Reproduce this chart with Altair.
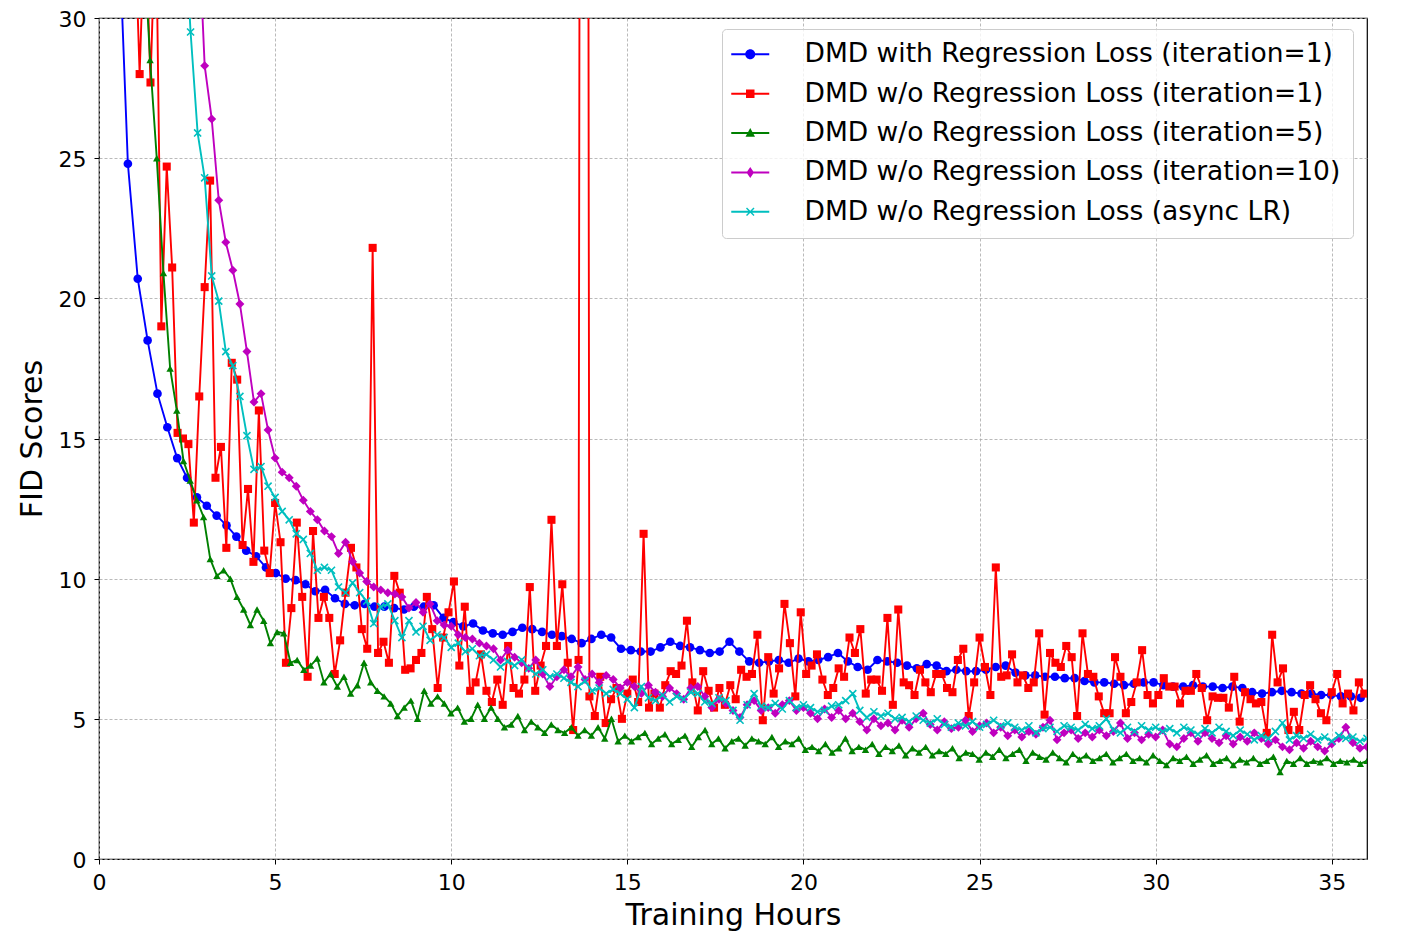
import altair as alt
import pandas as pd
import numpy as np

names = [
    "DMD with Regression Loss (iteration=1)",
    "DMD w/o Regression Loss (iteration=1)",
    "DMD w/o Regression Loss (iteration=5)",
    "DMD w/o Regression Loss (iteration=10)",
    "DMD w/o Regression Loss (async LR)",
]
colors = ["#0000ff", "#ff0000", "#008000", "#bf00bf", "#00bfbf"]

# blue: with regression loss, it=1  (hours 0.54 .. 35.82)
blue_x = (0.54, 35.82)
blue_y = [34, 24.8, 20.7, 18.5, 16.6, 15.4, 14.3, 13.6, 12.9, 12.6, 12.25, 11.9, 11.5, 11.0,
          10.8, 10.4, 10.2, 10.0, 9.95, 9.8, 9.55, 9.6, 9.3, 9.1, 9.05, 9.1, 9.0, 9.0, 8.95,
          8.9, 9.0, 9.0, 9.05, 8.6, 8.45, 8.3, 8.4, 8.15, 8.05, 8.0, 8.1, 8.25, 8.2, 8.1, 8.0,
          7.95, 7.85, 7.7, 7.85, 8.0, 7.9, 7.5, 7.45, 7.4, 7.4, 7.55, 7.75, 7.6, 7.55, 7.45,
          7.35, 7.4, 7.75, 7.4, 7.05, 7.0, 7.05, 7.1, 7.0, 7.15, 7.05, 7.1, 7.2, 7.35, 7.05,
          6.85, 6.75, 7.1, 7.05, 7.0, 6.9, 6.8, 6.95, 6.9, 6.7, 6.75, 6.7, 6.7, 6.75, 6.85,
          6.9, 6.65, 6.55, 6.55, 6.5, 6.5, 6.45, 6.45, 6.35, 6.3, 6.3, 6.25, 6.2, 6.25, 6.3,
          6.3, 6.2, 6.15, 6.15, 6.2, 6.15, 6.15, 6.1, 6.15, 6.1, 5.95, 5.9, 5.95, 6.0, 5.95,
          5.9, 5.9, 5.85, 5.85, 5.8, 5.8, 5.75]

# red: w/o regression loss, it=1 (hours 1.0 + i*2/13)
red_x0 = 1.0
red_step = 2 / 13
red_y = [
    34, 28.0, 34, 27.7, 34, 19.0, 24.7, 21.1, 15.2, 15.0, 14.8, 12.0, 16.5,
    20.4, 24.2, 13.6, 14.7, 11.1, 17.7, 17.1, 11.2, 13.2, 10.6, 16.0, 11.0, 10.2,
    12.7, 11.3, 7.0, 8.95, 12.0, 9.35, 6.5, 11.7, 8.6, 9.35, 8.6, 6.6, 7.8,
    9.5, 11.1, 10.4, 8.2, 7.5, 21.8, 7.35, 7.75, 7.0, 10.1, 9.5, 6.75, 6.8,
    7.1, 7.35, 9.35, 8.2, 6.1, 7.9, 8.8, 9.9, 6.9, 9.0, 6.0, 6.3, 7.3,
    6.0, 5.6, 6.4, 5.5, 7.6, 6.1, 5.9, 6.4, 9.7, 6.0, 6.9, 7.6, 12.1,
    7.6, 9.8, 7.0, 4.6, 7.1, 150, 5.8, 5.1, 6.5, 4.85, 5.7, 6.1, 5.0,
    5.9, 6.4, 5.6, 11.6, 5.4, 5.9, 5.4, 6.2, 6.7, 6.6, 6.9, 8.5, 6.3,
    5.3, 6.7, 6.0, 5.4, 6.1, 5.5, 6.2, 5.7, 6.75, 6.5, 6.6, 8.0, 4.95,
    7.2, 5.9, 6.8, 9.1, 7.7, 5.8, 8.8, 6.6, 6.9, 7.3, 6.4, 5.85, 6.1,
    6.8, 6.5, 7.9, 7.35, 8.2, 5.9, 6.4, 6.4, 6.0, 8.6, 5.5, 8.9, 6.3,
    6.2, 5.85, 6.75, 6.3, 5.95, 6.6, 6.6, 6.1, 5.95, 7.1, 7.5, 5.1, 6.3,
    7.9, 6.85, 5.85, 10.4, 6.5, 6.55, 7.3, 6.3, 6.55, 6.1, 6.3, 8.05, 5.15,
    7.35, 7.0, 6.85, 7.6, 7.2, 5.1, 8.05, 6.6, 6.5, 5.8, 5.2, 5.2, 7.2,
    6.5, 5.2, 5.6, 6.3, 7.45, 5.85, 5.55, 5.85, 6.45, 6.15, 6.15, 5.55, 6.0,
    6.0, 6.6, 6.1, 4.95, 5.8, 5.75, 5.75, 5.4, 6.5, 4.9, 5.95, 5.7, 5.55,
    5.6, 4.5, 8.0, 6.3, 6.8, 4.6, 5.25, 4.6, 5.85, 6.2, 5.7, 5.2, 4.95,
    5.95, 6.6, 5.55, 5.9, 5.3, 6.3, 5.9,
]

# green: w/o regression loss, it=5 (hours 1.26 .. 36.0)
green_x = (1.26, 36.0)
green_y = [33, 28.5, 25.0, 20.9, 17.5, 16.0, 14.2, 13.5, 12.8, 12.2, 10.7, 10.1, 10.3, 10.0,
           9.35, 8.9, 8.35, 8.9, 8.5, 7.7, 8.1, 8.05, 7.0, 7.1, 6.75, 6.9, 7.15, 6.3, 6.6,
           6.15, 6.5, 5.9, 6.2, 7.0, 6.3, 6.0, 5.8, 5.55, 5.1, 5.4, 5.65, 5.0, 6.0, 5.55,
           5.8, 5.55, 5.2, 5.4, 4.9, 5.0, 5.5, 5.0, 5.4, 5.0, 4.7, 4.8, 5.1, 4.6, 4.9, 4.7,
           4.5, 4.8, 4.6, 4.5, 4.7, 4.4, 4.6, 4.4, 4.7, 4.3, 5.0, 4.2, 4.4, 4.2, 4.35, 4.5,
           4.1, 4.3, 4.45, 4.1, 4.25, 4.4, 4.0, 4.35, 4.6, 4.1, 4.3, 3.95, 4.2, 4.3, 4.05,
           4.3, 4.2, 4.1, 4.35, 4.0, 4.2, 4.1, 4.3, 3.9, 4.0, 3.85, 4.1, 3.8, 3.95, 4.3,
           3.85, 4.0, 3.9, 4.1, 3.75, 4.0, 3.85, 4.05, 3.7, 3.95, 3.8, 4.0, 3.7, 3.85, 3.75,
           3.95, 3.6, 3.8, 3.75, 3.55, 3.8, 3.65, 3.9, 3.6, 3.75, 3.9, 3.5, 3.8, 3.65, 3.55,
           3.8, 3.6, 3.45, 3.75, 3.55, 3.7, 3.5, 3.6, 3.75, 3.45, 3.6, 3.75, 3.5, 3.6, 3.45,
           3.7, 3.5, 3.35, 3.6, 3.5, 3.65, 3.4, 3.55, 3.7, 3.4, 3.5, 3.6, 3.35, 3.55, 3.45,
           3.6, 3.4, 3.5, 3.65, 3.1, 3.5, 3.4, 3.6, 3.4, 3.5, 3.45, 3.6, 3.4, 3.5, 3.45, 3.55,
           3.4, 3.5]

# magenta: w/o regression loss, it=10 (hours 2.8 .. 36.0)
mag_x = (2.8, 36.0)
mag_y = [34, 28.3, 26.4, 23.5, 22.0, 21.0, 19.8, 18.1, 16.3, 16.6, 15.3, 14.3, 13.8, 13.6,
         13.3, 12.8, 12.4, 12.1, 11.7, 11.5, 10.9, 11.3, 10.6, 10.2, 9.9, 9.7, 9.6, 9.5,
         9.45, 9.35, 8.95, 9.15, 8.8, 9.1, 8.5, 8.35, 8.3, 8.0, 7.9, 7.85, 7.7, 7.6, 7.5,
         7.1, 7.45, 7.2, 7.0, 6.8, 7.1, 6.6, 6.15, 6.5, 6.75, 6.5, 6.85, 6.4, 6.6, 6.3,
         6.55, 6.4, 6.1, 6.3, 6.15, 5.9, 6.2, 5.95, 5.8, 6.1, 5.9, 5.7, 6.1, 6.15, 5.8, 5.4,
         5.7, 5.55, 5.3, 5.05, 5.5, 5.65, 5.3, 5.4, 5.2, 5.5, 5.65, 5.3, 5.4, 5.2, 5.0, 5.35,
         5.05, 5.3, 5.0, 5.2, 4.9, 4.6, 5.0, 4.75, 4.85, 4.6, 4.95, 4.7, 5.0, 5.2, 4.8, 4.6,
         4.9, 4.65, 4.7, 4.95, 4.55, 4.75, 4.85, 4.5, 4.7, 4.4, 4.6, 4.35, 4.55, 4.45, 4.7,
         4.95, 4.25, 4.5, 4.6, 4.3, 4.5, 4.35, 4.6, 4.4, 4.55, 4.85, 4.3, 4.5, 4.25, 4.45,
         4.35, 4.6, 4.1, 4.0, 4.3, 4.5, 4.2, 4.5, 4.3, 4.15, 4.4, 4.1, 4.35, 4.2, 4.5, 4.3,
         4.1, 4.25, 4.0, 3.9, 4.15, 3.95, 4.2, 4.0, 3.85, 4.1, 4.3, 4.7, 4.15, 3.95, 4.0]

# cyan: w/o regression loss, async LR (hours 2.4 .. 36.0)
cyan_x = (2.4, 36.0)
cyan_y = [34, 29.5, 25.9, 24.3, 20.8, 19.9, 18.1, 17.6, 16.5, 15.1, 13.9, 14.0, 13.3, 12.9,
          12.4, 12.1, 11.6, 11.4, 10.9, 10.3, 10.4, 10.3, 9.7, 9.5, 9.85, 9.5, 9.2, 8.4, 9.0,
          9.1, 8.5, 7.9, 8.5, 8.1, 8.3, 7.8, 8.0, 7.9, 7.55, 7.7, 7.4, 7.5, 7.25, 7.3, 7.1,
          6.85, 7.05, 6.9, 7.1, 6.8, 6.6, 6.75, 6.5, 6.6, 6.45, 6.3, 6.15, 6.35, 6.0, 6.1,
          5.9, 6.05, 5.9, 5.7, 5.4, 6.15, 5.75, 5.65, 5.85, 5.6, 5.8, 5.7, 5.95, 5.9, 5.6,
          5.55, 5.75, 5.65, 5.3, 4.95, 5.5, 5.9, 5.45, 5.4, 5.55, 5.35, 5.65, 5.4, 5.5, 5.4,
          5.25, 5.3, 5.45, 5.5, 5.65, 5.9, 5.3, 5.05, 5.25, 5.1, 5.2, 5.0, 5.05, 4.9, 5.1,
          4.95, 4.85, 5.0, 4.8, 4.7, 4.85, 4.75, 4.9, 4.7, 4.8, 4.95, 4.75, 4.85, 4.7, 4.6,
          4.75, 4.5, 4.65, 4.7, 4.55, 4.75, 4.7, 4.6, 4.8, 4.65, 4.75, 5.0, 4.6, 4.5, 4.7,
          4.55, 4.75, 4.6, 4.7, 4.55, 4.65, 4.5, 4.7, 4.6, 4.45, 4.65, 4.5, 4.7, 4.55, 4.4,
          4.6, 4.45, 4.25, 4.4, 4.3, 4.55, 4.85, 4.25, 4.4, 4.3, 4.45, 4.25, 4.35, 4.2, 4.4,
          4.3, 4.35, 4.2, 4.3]

x_ticks = [0, 5, 10, 15, 20, 25, 30, 35]
y_ticks = [0, 5, 10, 15, 20, 25, 30]

series = [
    (names[0], np.linspace(blue_x[0], blue_x[1], len(blue_y)), blue_y),
    (names[1], red_x0 + np.arange(len(red_y)) * red_step, red_y),
    (names[2], np.linspace(green_x[0], green_x[1], len(green_y)), green_y),
    (names[3], np.linspace(mag_x[0], mag_x[1], len(mag_y)), mag_y),
    (names[4], np.linspace(cyan_x[0], cyan_x[1], len(cyan_y)), cyan_y),
]

marker_shapes = ["circle", "square", "triangle-up", "diamond", "M-1,-1L1,1M-1,1L1,-1"]
marker_sizes = [75, 65, 55, 80, 50]

FONT = "DejaVu Sans"
xscale = alt.Scale(domain=[0, 36], nice=False, zero=False)
yscale = alt.Scale(domain=[0, 30], nice=False)
xaxis = alt.Axis(values=x_ticks, title="Training Hours", titlePadding=7,
                 labelFlush=False, labelPadding=8)
yaxis = alt.Axis(values=y_ticks, title="FID Scores", titlePadding=11,
                 labelFlush=False, labelPadding=8, labelOffset=1.5)

layers = []
for i, (nm, xs, ys) in enumerate(series):
    df = pd.DataFrame({"hours": xs, "fid": ys, "series": nm})
    base = alt.Chart(df).encode(
        x=alt.X("hours:Q", scale=xscale, axis=xaxis),
        y=alt.Y("fid:Q", scale=yscale, axis=yaxis),
    )
    line = base.mark_line(clip=True, strokeWidth=1.9, color=colors[i])
    if i == 4:
        pts = base.mark_point(clip=True, shape=marker_shapes[i], size=marker_sizes[i],
                              filled=False, strokeWidth=1.6, color=colors[i], opacity=1)
    else:
        pts = base.mark_point(clip=True, shape=marker_shapes[i], size=marker_sizes[i],
                              filled=True, color=colors[i], opacity=1)
    layers += [line, pts]

# legend symbols: line segment + marker
line_seg = "M-3.8,-0.2H3.8V0.2H-3.8Z"
legend_paths = [
    line_seg + "M-1,0A1,1,0,1,1,1,0A1,1,0,1,1,-1,0Z",
    line_seg + "M-0.85,-0.85H0.85V0.85H-0.85Z",
    line_seg + "M0,-1L0.95,0.75H-0.95Z",
    line_seg + "M0,-1.1L0.75,0L0,1.1L-0.75,0Z",
    line_seg + "M-0.65,-0.85L0.85,0.65L0.65,0.85L-0.85,-0.65ZM-0.85,0.65L0.65,-0.85L0.85,-0.65L-0.65,0.85Z",
]

leg = dict(
    title=None, orient="none", legendX=623, legendY=11, padding=12,
    fillColor="rgba(255,255,255,0.8)", strokeColor="#cccccc", cornerRadius=4,
    labelFontSize=26.5, labelFont=FONT, labelColor="black", labelLimit=0,
    symbolSize=100, symbolStrokeWidth=0, rowPadding=12.4, labelOffset=41, symbolOffset=3,
)
legend_df = pd.DataFrame({"series": names})
legend_layer = alt.Chart(legend_df).mark_point(filled=True, opacity=1, size=100).encode(
    color=alt.Color("series:N", scale=alt.Scale(domain=names, range=colors),
                    legend=alt.Legend(**leg)),
    shape=alt.Shape("series:N", scale=alt.Scale(domain=names, range=legend_paths),
                    legend=alt.Legend(**leg)),
).transform_filter("false")

chart = alt.layer(*layers, legend_layer).properties(
    width=1268, height=841,
    autosize=alt.AutoSizeParams(type="none"),
    padding={"left": 91, "top": 10, "right": 29, "bottom": 84},
).configure(font=FONT).configure_view(
    stroke="black", strokeWidth=1.2
).configure_axis(
    grid=True, gridColor="#a8a8a8", gridDash=[3, 2], gridWidth=0.8,
    domain=False, tickColor="black", tickSize=5, tickWidth=1,
    labelFontSize=22, labelColor="black", labelFont=FONT,
    titleFontSize=30, titleFontWeight="normal", titleColor="black", titleFont=FONT,
)

chart.save("out.html", embed_options={"renderer": "svg", "actions": False})
